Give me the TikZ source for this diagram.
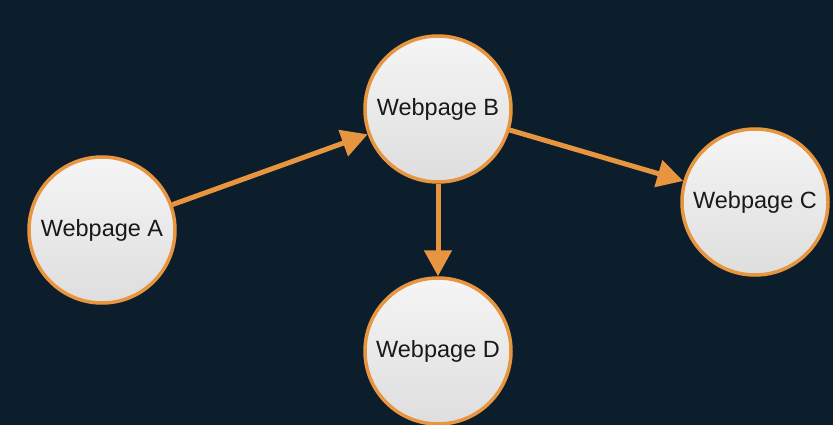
\documentclass[tikz,border=0pt]{standalone}
\usepackage{fontspec}
\setmainfont{Liberation Sans}
\usetikzlibrary{arrows.meta}
\definecolor{bg}{HTML}{0C1E2B}
\definecolor{org}{HTML}{E8953F}
\definecolor{topg}{HTML}{F5F5F5}
\definecolor{botg}{HTML}{DEDEDE}
\begin{document}
\begin{tikzpicture}[x=1pt,y=-1pt,
  page/.style={circle, draw=org, line width=3.5pt, minimum size=146pt, inner sep=0pt,
    top color=topg, bottom color=botg, font=\fontsize{23.5}{26}\selectfont, text=black!90},
  link/.style={draw=org, line width=5pt, -{Triangle[length=26pt,width=27pt]}}]
\fill[bg] (0,0) rectangle (833,425);
\useasboundingbox (0,0) rectangle (833,425);
\node[page] (A) at (102,230) {Webpage A};
\node[page] (B) at (438,109) {Webpage B};
\node[page] (C) at (755,202) {Webpage C};
\node[page] (D) at (438,351) {Webpage D};
\draw[link] (A) -- (B);
\draw[link] (B) -- (C);
\draw[link] (B) -- (D);
\end{tikzpicture}
\end{document}
